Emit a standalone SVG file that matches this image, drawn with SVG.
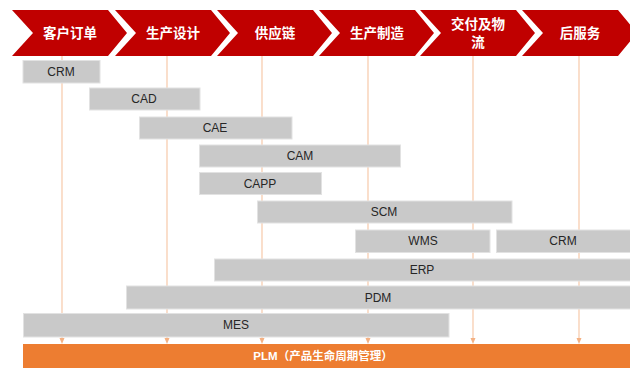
<svg xmlns="http://www.w3.org/2000/svg" width="630" height="368" viewBox="0 0 630 368">
<style>
.chev{fill:#C00000}
.ct{fill:#fff;font-family:"Liberation Sans","Noto Sans CJK SC",sans-serif;font-size:13.5px;font-weight:bold;text-anchor:middle;dominant-baseline:central}
.bar{fill:#c9c9c9;stroke:#e2e2e2;stroke-width:1}
.bt{fill:#262626;font-family:"Liberation Sans","Noto Sans CJK SC",sans-serif;font-size:12px;text-anchor:middle;dominant-baseline:central}
.vl{stroke:#f7c9a9;stroke-width:1.2;fill:none;marker-end:url(#ah)}
.plm{fill:#ED7D31}
.pt{fill:#fff;font-family:"Liberation Sans","Noto Sans CJK SC",sans-serif;font-size:11.5px;font-weight:bold;text-anchor:middle;dominant-baseline:central}
</style>
<defs>
<marker id="ah" markerWidth="6" markerHeight="6" refX="3" refY="3" orient="auto" markerUnits="userSpaceOnUse">
<path d="M0,0.5 L6,3 L0,5.5 Z" fill="#f4b183"/>
</marker>
<path id="chevShape" d="M0,10 L96,10 L115,33 L96,56 L0,56 L21,33 Z"/>
</defs>
<rect width="630" height="368" fill="#fff"/>
<g id="connectors">
<line class="vl" x1="62" y1="56" x2="62" y2="341"/>
<line class="vl" x1="167" y1="56" x2="167" y2="341"/>
<line class="vl" x1="262" y1="56" x2="262" y2="341"/>
<line class="vl" x1="368" y1="56" x2="368" y2="341"/>
<line class="vl" x1="473" y1="56" x2="473" y2="341"/>
<line class="vl" x1="579" y1="56" x2="579" y2="341"/>
</g>
<g id="stage-order"><use href="#chevShape" class="chev" x="12"/><text class="ct" x="70" y="33">客户订单</text></g>
<g id="stage-design"><use href="#chevShape" class="chev" x="115"/><text class="ct" x="173" y="33">生产设计</text></g>
<g id="stage-supply"><use href="#chevShape" class="chev" x="217"/><text class="ct" x="275" y="33">供应链</text></g>
<g id="stage-manufacture"><use href="#chevShape" class="chev" x="319"/><text class="ct" x="377" y="33">生产制造</text></g>
<g id="stage-delivery"><use href="#chevShape" class="chev" x="420"/><text class="ct" x="478" y="24">交付及物</text><text class="ct" x="478" y="42">流</text></g>
<g id="stage-service"><use href="#chevShape" class="chev" x="522"/><text class="ct" x="580" y="33">后服务</text></g>
<g id="crm1"><rect class="bar" x="23" y="60.5" width="77" height="22.5"/><text class="bt" x="61" y="72">CRM</text></g>
<g id="cad"><rect class="bar" x="89.5" y="88" width="110.5" height="22"/><text class="bt" x="144" y="99">CAD</text></g>
<g id="cae"><rect class="bar" x="139.5" y="117" width="152.5" height="22"/><text class="bt" x="215" y="128">CAE</text></g>
<g id="cam"><rect class="bar" x="199.5" y="145" width="201" height="22"/><text class="bt" x="300" y="156">CAM</text></g>
<g id="capp"><rect class="bar" x="199.5" y="172.5" width="122" height="22"/><text class="bt" x="260" y="183.5">CAPP</text></g>
<g id="scm"><rect class="bar" x="257.5" y="201" width="254.5" height="22"/><text class="bt" x="384" y="212">SCM</text></g>
<g id="wms"><rect class="bar" x="355.5" y="230" width="134.5" height="22.5"/><text class="bt" x="423" y="241">WMS</text></g>
<g id="crm2"><rect class="bar" x="496.5" y="230" width="140" height="22.5"/><text class="bt" x="563" y="241">CRM</text></g>
<g id="erp"><rect class="bar" x="214.5" y="259" width="420" height="22"/><text class="bt" x="422" y="270">ERP</text></g>
<g id="pdm"><rect class="bar" x="126.5" y="286" width="510" height="23"/><text class="bt" x="378" y="297.5">PDM</text></g>
<g id="mes"><rect class="bar" x="23.5" y="313.5" width="425.5" height="23.5"/><text class="bt" x="236" y="325">MES</text></g>
<g id="plm"><rect class="plm" x="23" y="344" width="610" height="26"/><text class="pt" x="323" y="356">PLM（产品生命周期管理）</text></g>
</svg>
